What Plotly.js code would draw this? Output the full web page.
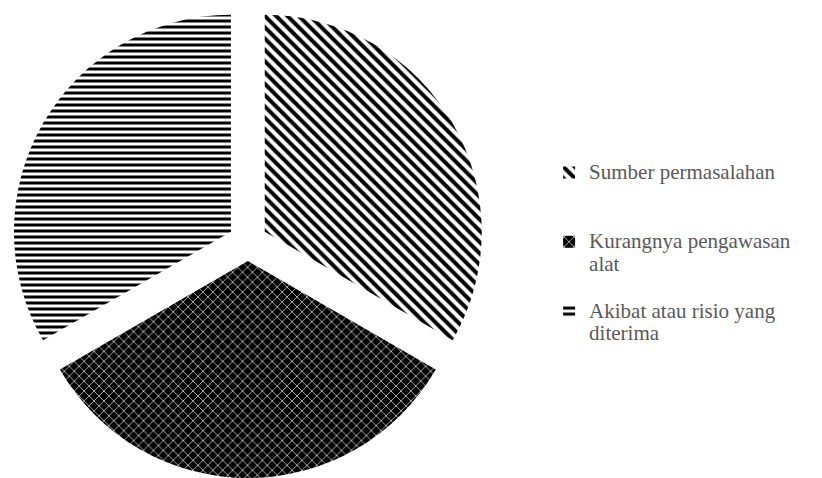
<!DOCTYPE html>
<html>
<head>
<meta charset="utf-8">
<script src="https://cdn.plot.ly/plotly-3.0.1.min.js"></script>
<style>html,body{margin:0;padding:0;background:#fff;}#chart{width:822px;height:478px;}</style>
</head>
<body>
<div id="chart"></div>
<script>
const labelLines = [
  ["Sumber permasalahan"],
  ["Kurangnya pengawasan", "alat"],
  ["Akibat atau risio yang", "diterima"]
];
const values = [1, 1, 1];
const patternShapes = ["\\", "x", "-"];

// each legend entry is padded to three lines so entries are evenly spaced
const labels = labelLines.map(function (lines) {
  const out = lines.map(function (l) { return '<span style="font-size:21px">' + l + '</span>'; });
  while (out.length < 3) out.push(" ");
  return out.join("<br>");
});

const trace = {
  type: "pie",
  labels: labels,
  values: values,
  sort: false,
  direction: "clockwise",
  rotation: 0,
  pull: [0.09, 0.09, 0.09],
  textinfo: "none",
  hoverinfo: "none",
  domain: {x: [0, 0.603], y: [0, 1]},
  marker: {
    colors: ["#ffffff", "#000000", "#ffffff"],
    line: {width: 0},
    pattern: {
      shape: patternShapes,
      fgcolor: ["#000000", "#ffffff", "#000000"],
      bgcolor: ["#ffffff", "#000000", "#ffffff"],
      size: [8, 7, 6],
      solidity: [0.5, 0.18, 0.5],
      fillmode: "replace"
    }
  }
};

const layout = {
  width: 822,
  height: 478,
  margin: {l: 0, r: 0, t: 5, b: 0},
  paper_bgcolor: "#ffffff",
  showlegend: true,
  legend: {
    x: 0.668,
    y: 0.683,
    xanchor: "left",
    yanchor: "top",
    valign: "top",
    font: {family: "Liberation Serif", size: 17, color: "#595959"},
    itemwidth: 30,
    bgcolor: "rgba(0,0,0,0)"
  }
};

Plotly.newPlot("chart", [trace], layout, {staticPlot: true, displayModeBar: false});
</script>
</body>
</html>
